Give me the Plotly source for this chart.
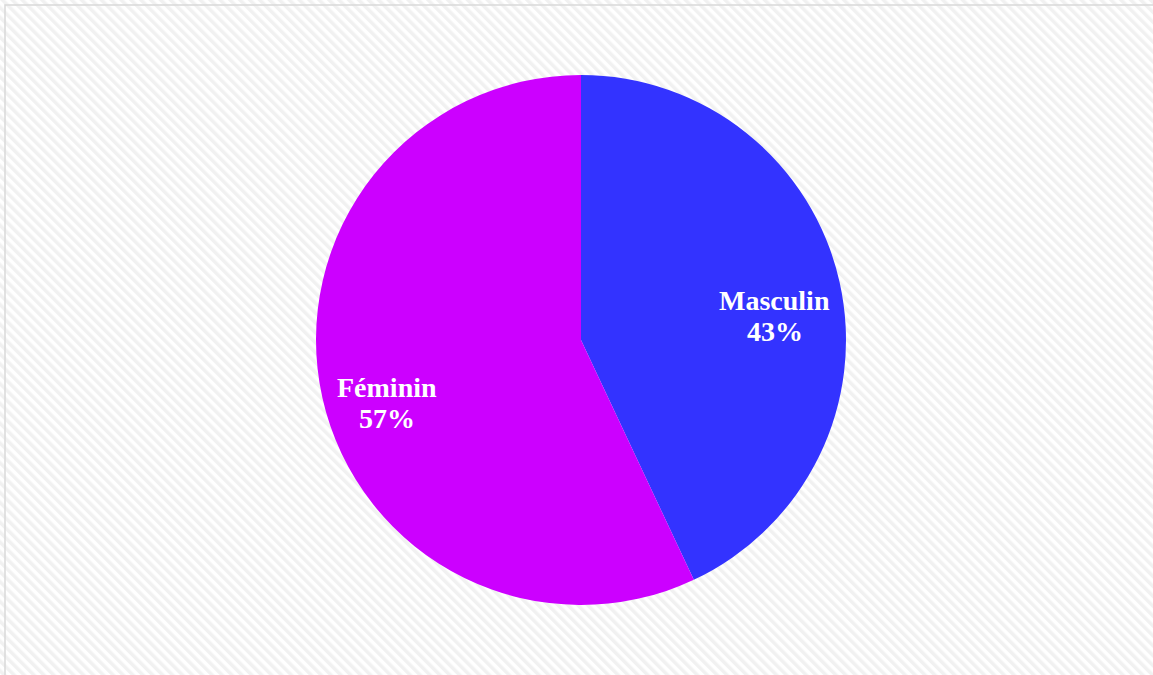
import base64
import math
import plotly.graph_objects as go

# Gender split
labels = ["Masculin", "Féminin"]
values = [43, 57]
colors = ["#3333FF", "#CC00FF"]

W, H = 1153, 675
# Pie placement in pixels: centre and radius
CX, CY, R = 581, 340, 265

# Light diagonal-stripe backdrop as an SVG pattern
svg = f"""<svg xmlns='http://www.w3.org/2000/svg' width='{W}' height='{H}'>
<defs><pattern id='s' width='7' height='7' patternUnits='userSpaceOnUse' patternTransform='rotate(-45)'>
<rect width='7' height='7' fill='#ffffff'/><rect width='3.5' height='7' fill='#f1f1f1'/></pattern></defs>
<rect width='{W}' height='{H}' fill='url(#s)'/></svg>"""
bg_src = "data:image/svg+xml;base64," + base64.b64encode(svg.encode()).decode()

fig = go.Figure(
    go.Pie(
        labels=labels,
        values=values,
        marker=dict(colors=colors, line=dict(width=0)),
        sort=False,
        direction="clockwise",
        rotation=0,
        textinfo="none",
        hoverinfo="label+percent",
        showlegend=False,
        domain=dict(x=[(CX - R) / W, (CX + R) / W], y=[(H - CY - R) / H, (H - CY + R) / H]),
    )
)

# Slice labels: name and percentage, placed along each slice's mid-angle
total = sum(values)
font = dict(family="Liberation Serif", size=28, color="white")
annotations = []
start = 0.0
for lab, v in zip(labels, values):
    frac = v / total
    mid = (start + frac / 2) * 2 * math.pi
    start += frac
    px = CX + 0.75 * R * math.sin(mid)
    py = CY - 0.75 * R * math.cos(mid)
    x, y = px / W, 1 - py / H
    annotations.append(dict(x=x, y=y, xref="paper", yref="paper", text=f"<b>{lab}</b>",
                            showarrow=False, font=font, xanchor="center", yanchor="middle",
                            yshift=-4))
    annotations.append(dict(x=x, y=y, xref="paper", yref="paper", text=f"<b>{round(frac * 100)}%</b>",
                            showarrow=False, font=font, xanchor="center", yanchor="middle",
                            yshift=-35))

fig.update_layout(
    width=W,
    height=H,
    margin=dict(l=0, r=0, t=0, b=0),
    paper_bgcolor="white",
    plot_bgcolor="rgba(0,0,0,0)",
    annotations=annotations,
    images=[dict(source=bg_src, xref="paper", yref="paper", x=0, y=1,
                 sizex=1, sizey=1, sizing="stretch", layer="below")],
    shapes=[dict(type="rect", xref="paper", yref="paper",
                 x0=5 / W, x1=1.02, y0=-0.02, y1=1 - 5 / H,
                 line=dict(color="#d9d9d9", width=1.5), fillcolor="rgba(0,0,0,0)",
                 layer="above")],
)

fig.write_html("out.html")
